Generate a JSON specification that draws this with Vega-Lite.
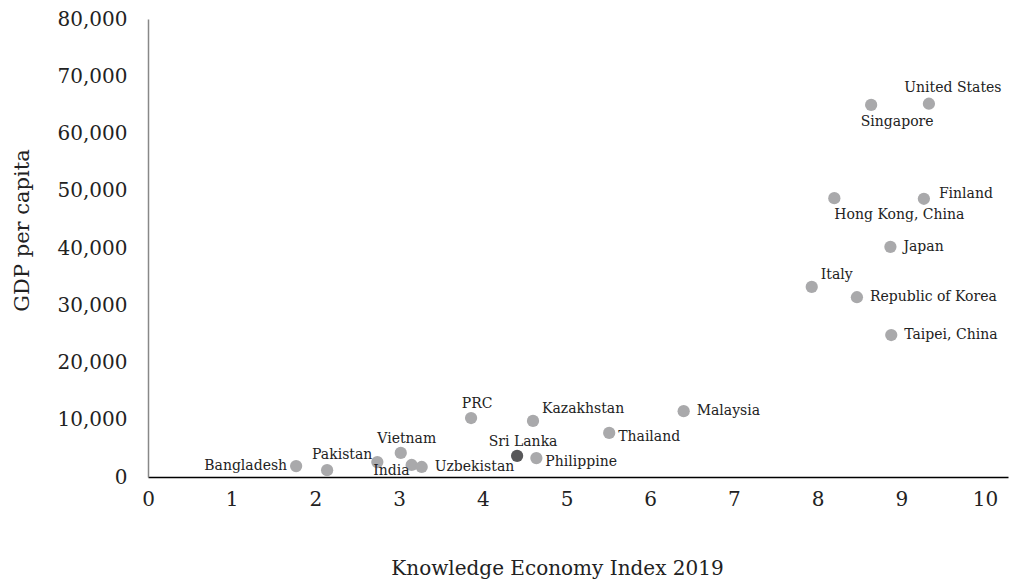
{
  "$schema": "https://vega.github.io/schema/vega-lite/v6.json",
  "autosize": {"type": "none"},
  "width": 860,
  "height": 458,
  "padding": {"left": 148, "top": 19, "right": 1, "bottom": 106},
  "background": "white",
  "config": {
    "view": {"stroke": null},
    "font": "DejaVu Serif",
    "axis": {"labelFont": "DejaVu Serif", "titleFont": "DejaVu Serif", "labelColor": "#222222", "titleColor": "#222222", "grid": false, "ticks": false, "labelFontSize": 20, "titleFontWeight": "normal"}
  },
  "data": {"values": [
    {"country": "United States", "kei": 9.33, "gdp": 65200, "hl": "no"},
    {"country": "Singapore", "kei": 8.64, "gdp": 65000, "hl": "no"},
    {"country": "Hong Kong, China", "kei": 8.20, "gdp": 48700, "hl": "no"},
    {"country": "Finland", "kei": 9.27, "gdp": 48600, "hl": "no"},
    {"country": "Japan", "kei": 8.87, "gdp": 40200, "hl": "no"},
    {"country": "Italy", "kei": 7.93, "gdp": 33200, "hl": "no"},
    {"country": "Republic of Korea", "kei": 8.47, "gdp": 31400, "hl": "no"},
    {"country": "Taipei, China", "kei": 8.88, "gdp": 24800, "hl": "no"},
    {"country": "Malaysia", "kei": 6.40, "gdp": 11500, "hl": "no"},
    {"country": "PRC", "kei": 3.86, "gdp": 10300, "hl": "no"},
    {"country": "Kazakhstan", "kei": 4.60, "gdp": 9800, "hl": "no"},
    {"country": "Thailand", "kei": 5.51, "gdp": 7700, "hl": "no"},
    {"country": "Sri Lanka", "kei": 4.41, "gdp": 3700, "hl": "yes"},
    {"country": "Philippine", "kei": 4.64, "gdp": 3300, "hl": "no"},
    {"country": "Vietnam", "kei": 3.02, "gdp": 4200, "hl": "no"},
    {"country": "India", "kei": 3.15, "gdp": 2100, "hl": "no"},
    {"country": "Uzbekistan", "kei": 3.27, "gdp": 1750, "hl": "no"},
    {"country": "Pakistan", "kei": 2.74, "gdp": 2600, "hl": "no"},
    {"country": "Bangladesh", "kei": 1.77, "gdp": 1900, "hl": "no"},
    {"country": "", "kei": 2.14, "gdp": 1200, "hl": "no"}
  ]},
  "encoding": {
    "x": {"field": "kei", "type": "quantitative", "scale": {"domain": [0, 10.275], "nice": false, "zero": true},
      "axis": {"title": "Knowledge Economy Index 2019", "titleFontSize": 20, "titleX": 409, "values": [0,1,2,3,4,5,6,7,8,9,10], "format": "d", "domainColor": "#000000", "domainWidth": 1.5, "labelPadding": 12, "titlePadding": 49, "labelFlush": false}},
    "y": {"field": "gdp", "type": "quantitative", "scale": {"domain": [0, 80000], "nice": false},
      "axis": {"title": "GDP per capita", "titleFontSize": 21, "titleY": 211, "values": [0,10000,20000,30000,40000,50000,60000,70000,80000], "format": ",d", "domainColor": "#888888", "domainWidth": 1.5, "labelPadding": 21, "titlePadding": 25, "labelFlush": false}}
  },
  "layer": [
    {"mark": {"type": "circle", "size": 150, "opacity": 1},
     "encoding": {"color": {"field": "hl", "type": "nominal", "scale": {"domain": ["no", "yes"], "range": ["#a9a9ab", "#58585a"]}, "legend": null}}},
    {"transform": [{"filter": {"field": "country", "oneOf": ["Japan", "Republic of Korea", "Taipei, China", "Malaysia", "Uzbekistan"]}}],
     "mark": {"type": "text", "align": "left", "baseline": "middle", "dx": 13, "dy": 0, "fontSize": 14, "color": "#222222"},
     "encoding": {"text": {"field": "country"}}},
    {"transform": [{"filter": {"field": "country", "oneOf": ["Finland"]}}],
     "mark": {"type": "text", "align": "left", "baseline": "middle", "dx": 15, "dy": -5, "fontSize": 14, "color": "#222222"},
     "encoding": {"text": {"field": "country"}}},
    {"transform": [{"filter": {"field": "country", "oneOf": ["Thailand", "Philippine"]}}],
     "mark": {"type": "text", "align": "left", "baseline": "middle", "dx": 9, "dy": 4, "fontSize": 14, "color": "#222222"},
     "encoding": {"text": {"field": "country"}}},
    {"transform": [{"filter": {"field": "country", "oneOf": ["Kazakhstan", "Italy"]}}],
     "mark": {"type": "text", "align": "left", "baseline": "middle", "dx": 9, "dy": -12, "fontSize": 14, "color": "#222222"},
     "encoding": {"text": {"field": "country"}}},
    {"transform": [{"filter": {"field": "country", "oneOf": ["PRC", "Sri Lanka", "Vietnam"]}}],
     "mark": {"type": "text", "align": "center", "baseline": "middle", "dx": 6, "dy": -14, "fontSize": 14, "color": "#222222"},
     "encoding": {"text": {"field": "country"}}},
    {"transform": [{"filter": {"field": "country", "oneOf": ["United States"]}}],
     "mark": {"type": "text", "align": "center", "baseline": "middle", "dx": 24, "dy": -16, "fontSize": 14, "color": "#222222"},
     "encoding": {"text": {"field": "country"}}},
    {"transform": [{"filter": {"field": "country", "oneOf": ["Singapore"]}}],
     "mark": {"type": "text", "align": "center", "baseline": "middle", "dx": 26, "dy": 17, "fontSize": 14, "color": "#222222"},
     "encoding": {"text": {"field": "country"}}},
    {"transform": [{"filter": {"field": "country", "oneOf": ["Hong Kong, China"]}}],
     "mark": {"type": "text", "align": "left", "baseline": "middle", "dx": 0, "dy": 17, "fontSize": 14, "color": "#222222"},
     "encoding": {"text": {"field": "country"}}},
    {"transform": [{"filter": {"field": "country", "oneOf": ["Bangladesh"]}}],
     "mark": {"type": "text", "align": "right", "baseline": "middle", "dx": -9, "dy": 0, "fontSize": 14, "color": "#222222"},
     "encoding": {"text": {"field": "country"}}},
    {"transform": [{"filter": {"field": "country", "oneOf": ["Pakistan"]}}],
     "mark": {"type": "text", "align": "right", "baseline": "middle", "dx": -5, "dy": -7, "fontSize": 14, "color": "#222222"},
     "encoding": {"text": {"field": "country"}}},
    {"transform": [{"filter": {"field": "country", "oneOf": ["India"]}}],
     "mark": {"type": "text", "align": "right", "baseline": "middle", "dx": -2, "dy": 6, "fontSize": 14, "color": "#222222"},
     "encoding": {"text": {"field": "country"}}}
  ]
}
